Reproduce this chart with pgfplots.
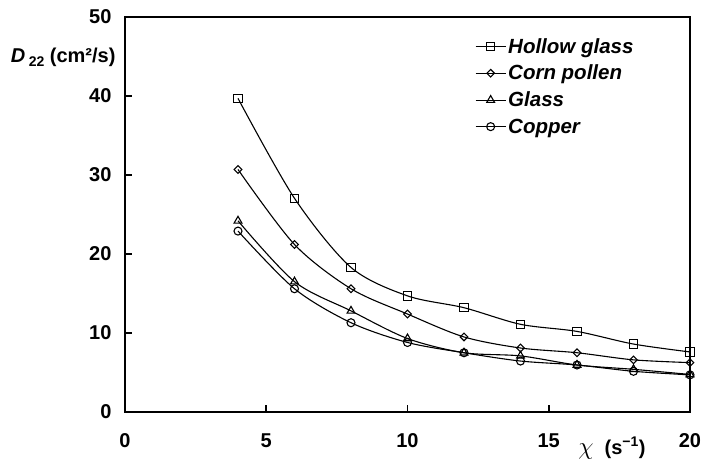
\documentclass[border=0pt]{standalone}
\usepackage{fontspec}
\setmainfont{Liberation Sans}
\usepackage{pgfplots}
\pgfplotsset{compat=1.18}
\begin{document}
\begin{tikzpicture}
\begin{axis}[
  scale only axis,
  width=565pt, height=395pt,
  at={(0,0)}, anchor=south west,
  xmin=0, xmax=20, ymin=0, ymax=50,
  xtick={0,5,10,15,20}, ytick={0,10,20,30,40,50},
  xtick pos=bottom, ytick pos=left,
  tick align=inside, major tick length=7pt,
  axis line style={line width=2.4pt},
  major tick style={line width=1.8pt, black},
  /pgf/number format/assume math mode=true,
  tick label style={font=\fontsize{20}{24}\selectfont\bfseries},
  xticklabel style={yshift=-18pt},
  yticklabel style={xshift=-10pt},
  every axis plot/.append style={black, line width=1.1pt, smooth, tension=0.5},
  legend image code/.code={\draw[#1, mark repeat=2, mark phase=2] plot coordinates {(0pt,0pt) (15pt,0pt) (30pt,0pt)};},
  legend style={draw=none, fill=none, at={(axis description cs:0.614,0.957)}, anchor=north west,
    font=\fontsize{20.5}{24}\selectfont\bfseries\itshape, row sep=6.5pt,
    /tikz/every even column/.append style={column sep=1pt}},
  legend cell align=left,
  clip=false,
]
\addplot[mark=square, mark size=4.2pt, mark options={solid, fill=white, line width=1.1pt}] coordinates {
(4,39.7) (6,27.05) (8,18.3) (10,14.7) (12,13.2) (14,11.1) (16,10.2) (18,8.6) (20,7.6)};
\addlegendentry{Hollow glass}
\addplot[mark=square, mark size=2.7pt, mark options={solid, fill=white, line width=1.1pt, rotate=45}] coordinates {
(4,30.7) (6,21.2) (8,15.6) (10,12.4) (12,9.5) (14,8.1) (16,7.5) (18,6.6) (20,6.25)};
\addlegendentry{Corn pollen}
\addplot[mark=triangle, mark size=4.5pt, mark options={solid, fill=white, line width=1.1pt}] coordinates {
(4,24.2) (6,16.5) (8,12.8) (10,9.3) (12,7.5) (14,7.1) (16,5.95) (18,5.4) (20,4.75)};
\addlegendentry{Glass}
\addplot[mark=o, mark size=4pt, mark options={solid, fill=white, line width=1.1pt}] coordinates {
(4,22.9) (6,15.6) (8,11.3) (10,8.8) (12,7.5) (14,6.45) (16,5.95) (18,5.15) (20,4.7)};
\addlegendentry{Copper}
\node[anchor=east, font=\fontsize{20}{24}\selectfont\bfseries] at (rel axis cs:0,0.899) [xshift=-6pt]
  {\textit{D}\,{\fontsize{14}{16}\selectfont\raisebox{-4pt}{22}} (cm²/s)};
\node[anchor=west, font=\fontsize{20}{24}\selectfont\bfseries, inner sep=0pt] at (rel axis cs:0.802,0) [yshift=-36pt]
  {{\fontsize{24}{28}\selectfont$\chi$}\ \ (s\textsuperscript{−1})};
\end{axis}
\pgfresetboundingbox
\path (-125pt,-50pt) rectangle (577pt,412pt);
\end{tikzpicture}
\end{document}
